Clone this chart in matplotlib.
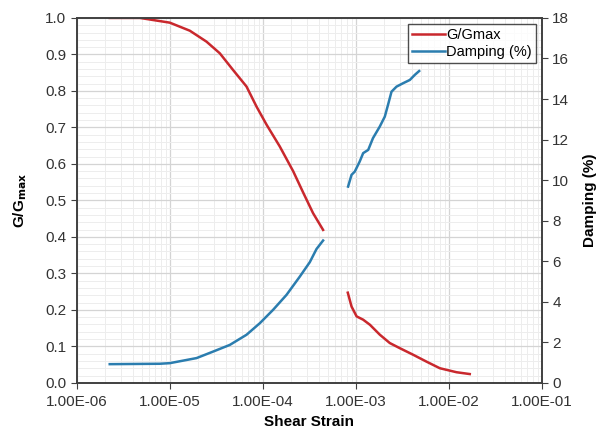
import numpy as np
import matplotlib
matplotlib.use("Agg")
import matplotlib.pyplot as plt
from matplotlib.ticker import FuncFormatter, LogLocator, MultipleLocator

plt.rcParams['font.family'] = ['Liberation Sans', 'DejaVu Sans']

# G/Gmax curve (two segments, gap in between)
g_strain_1 = [2.26e-6, 4.76e-6, 1.0e-5, 1.64e-5, 2.48e-5, 3.45e-5, 4.8e-5, 6.68e-5,
              8.56e-5, 1.10e-4, 1.52e-4, 2.12e-4, 2.71e-4, 3.47e-4, 4.45e-4]
g_ratio_1 = [1.0, 1.0, 0.987, 0.965, 0.935, 0.903, 0.857, 0.812,
             0.757, 0.707, 0.648, 0.58, 0.522, 0.465, 0.419]
g_strain_2 = [8.2e-4, 9.0e-4, 1.02e-3, 1.2e-3, 1.42e-3, 1.81e-3, 2.32e-3, 2.97e-3,
              4.13e-3, 5.76e-3, 8.0e-3, 1.21e-2, 1.68e-2]
g_ratio_2 = [0.247, 0.209, 0.182, 0.173, 0.159, 0.132, 0.109, 0.095,
             0.077, 0.058, 0.040, 0.029, 0.024]

# Damping curve (%)
d_strain_1 = [2.26e-6, 7.8e-6, 1.0e-5, 1.94e-5, 2.92e-5, 4.42e-5, 6.68e-5, 9.29e-5,
              1.29e-4, 1.80e-4, 2.50e-4, 3.20e-4, 3.78e-4, 4.45e-4]
d_pct_1 = [0.92, 0.94, 0.97, 1.22, 1.54, 1.87, 2.37, 2.94,
           3.6, 4.34, 5.24, 5.95, 6.6, 7.02]
d_strain_2 = [8.26e-4, 9.0e-4, 9.75e-4, 1.10e-3, 1.20e-3, 1.36e-3, 1.53e-3, 1.81e-3,
              2.05e-3, 2.22e-3, 2.42e-3, 2.74e-3, 3.23e-3, 3.81e-3, 4.31e-3, 4.80e-3]
d_pct_2 = [9.68, 10.26, 10.42, 10.91, 11.33, 11.49, 12.07, 12.64,
           13.13, 13.71, 14.36, 14.61, 14.78, 14.94, 15.19, 15.38]

RED = '#C9282D'
BLUE = '#2B7DAF'

fig = plt.figure(figsize=(6, 4.37), dpi=100)
ax = fig.add_axes([0.128, 0.124, 0.775, 0.835])
ax2 = ax.twinx()

ax.plot(g_strain_1, g_ratio_1, color=RED, lw=1.8, label='G/Gmax')
ax.plot(g_strain_2, g_ratio_2, color=RED, lw=1.8)
ax2.plot(d_strain_1, d_pct_1, color=BLUE, lw=1.8)
ax2.plot(d_strain_2, d_pct_2, color=BLUE, lw=1.8)
ax.plot([], [], color=BLUE, lw=1.8, label='Damping (%)')

ax.set_xscale('log')
ax.set_xlim(1e-6, 1e-1)
ax.set_ylim(0, 1.0)
ax2.set_ylim(0, 18)

ax.xaxis.set_major_locator(LogLocator(base=10, numticks=10))
ax.xaxis.set_minor_locator(LogLocator(base=10, subs=np.arange(2, 10), numticks=20))
ax.xaxis.set_major_formatter(FuncFormatter(lambda v, p: f"{v:.2E}"))
ax.yaxis.set_major_locator(MultipleLocator(0.1))
ax.yaxis.set_minor_locator(MultipleLocator(0.02))
ax.yaxis.set_major_formatter(FuncFormatter(lambda v, p: f"{v:.1f}"))
ax2.yaxis.set_major_locator(MultipleLocator(2))

ax.grid(True, which='major', color='#d4d4d4', lw=0.9)
ax.grid(True, which='minor', color='#ededed', lw=0.7)
ax.set_axisbelow(True)

for a in (ax, ax2):
    for s in a.spines.values():
        s.set_color('#404040')
        s.set_linewidth(1.2)
    a.tick_params(which='major', length=4, color='#404040', labelsize=11, labelcolor='#333333')
    a.tick_params(which='minor', length=0)
ax.tick_params(axis='x', pad=5)

ax.set_xlabel('Shear Strain', fontsize=11, fontweight='bold', labelpad=4)
ax.set_ylabel('G/G$_{\\mathbf{max}}$', fontsize=11, fontweight='bold', labelpad=12)
ax2.set_ylabel('Damping (%)', fontsize=11, fontweight='bold', rotation=90, labelpad=10)

leg = ax.legend(loc='upper right', fontsize=10.5, frameon=True, fancybox=False,
                edgecolor='#202020', handlelength=2.2, handletextpad=0.1,
                borderpad=0.3, labelspacing=0.2, borderaxespad=0.4)
leg.get_frame().set_linewidth(1.0)

fig.savefig('out.png', dpi=100)
